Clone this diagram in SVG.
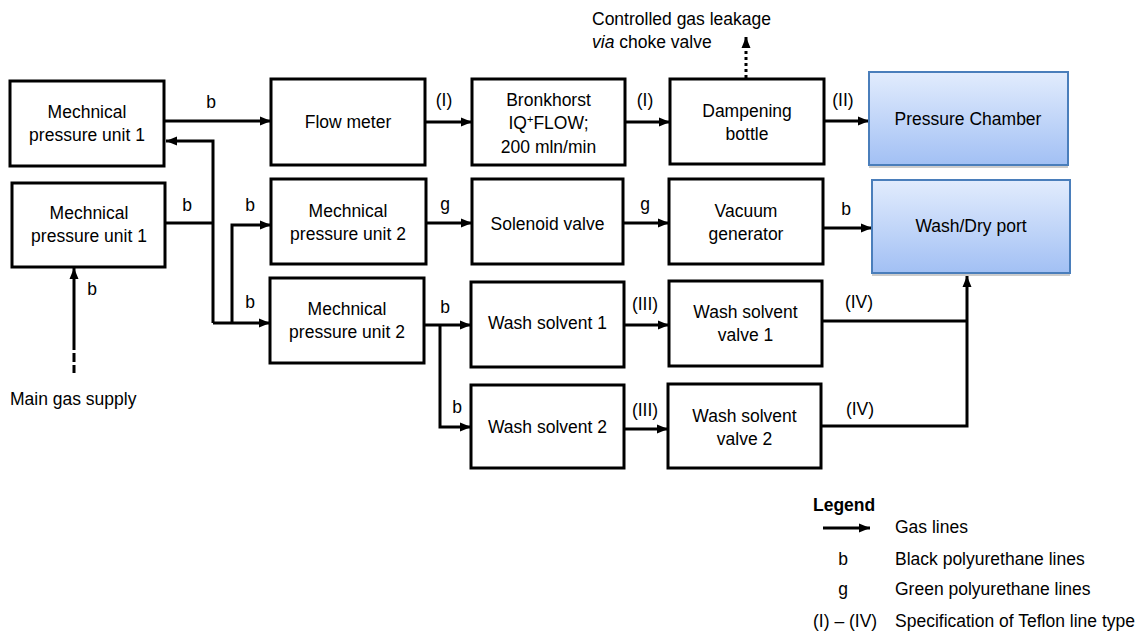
<svg xmlns="http://www.w3.org/2000/svg" width="1146" height="635" viewBox="0 0 1146 635">
  <style>
    text { font-family: "Liberation Sans", Arial, sans-serif; font-size: 17.5px; fill: #000; }
    .c { text-anchor: middle; }
    .box { fill: #fff; stroke: #000; stroke-width: 3; }
    .target { fill: url(#blueFill); stroke: #4a7ebb; stroke-width: 2; }
    .shadow { fill: #cccccc; }
    .line { fill: none; stroke: #000; stroke-width: 3; }
    .arrow { marker-end: url(#head); }
    .dotted { stroke-dasharray: 3 3; }
    .bold { font-weight: bold; }
  </style>
  <defs>
    <marker id="head" markerUnits="userSpaceOnUse" markerWidth="12" markerHeight="10" refX="11" refY="5" orient="auto">
      <path d="M0,0.5 L11,5 L0,9.5 z" fill="#000"/>
    </marker>
    <linearGradient id="blueFill" x1="0" y1="0" x2="0" y2="1">
      <stop offset="0" stop-color="#e2ecfd"/>
      <stop offset="1" stop-color="#a2c0f4"/>
    </linearGradient>
  </defs>

  <rect width="1146" height="635" fill="#fff"/>

  <!-- connectors -->
  <g id="connectors">
    <path class="line arrow" d="M164,121 H271"/>
    <path class="line arrow" d="M213,323 V141 H166"/>
    <path class="line" d="M165,223 H213"/>
    <path class="line arrow" d="M213,323 H270"/>
    <path class="line arrow" d="M232,323 V225 H271"/>
    <path class="line arrow" d="M74,350 V268"/>
    <path class="line" d="M74,353 V362 M74,365 V373"/>
    <path class="line arrow" d="M425,122 H472"/>
    <path class="line arrow" d="M625,122 H670"/>
    <path class="line arrow" d="M824,121 H869"/>
    <path class="line dotted" d="M746,78 V46"/>
    <path class="line arrow" d="M746,46 V37"/>
    <path class="line arrow" d="M426,223 H472"/>
    <path class="line arrow" d="M623,223 H669"/>
    <path class="line arrow" d="M823,228 H872"/>
    <path class="line arrow" d="M424,325 H471"/>
    <path class="line arrow" d="M440,325 V427 H471"/>
    <path class="line arrow" d="M624,325 H669"/>
    <path class="line arrow" d="M624,429 H668"/>
    <path class="line" d="M822,321 H967"/>
    <path class="line arrow" d="M821,426 H967 V276"/>

    <text class="c" x="211" y="108">b</text>
    <text class="c" x="187" y="211">b</text>
    <text class="c" x="250" y="211">b</text>
    <text class="c" x="250" y="308">b</text>
    <text class="c" x="92" y="295">b</text>
    <text class="c" x="444" y="106">(I)</text>
    <text class="c" x="645" y="106">(I)</text>
    <text class="c" x="843" y="106">(II)</text>
    <text class="c" x="445" y="210">g</text>
    <text class="c" x="645" y="210">g</text>
    <text class="c" x="846" y="215">b</text>
    <text class="c" x="445" y="313">b</text>
    <text class="c" x="457" y="413">b</text>
    <text class="c" x="645" y="310">(III)</text>
    <text class="c" x="645" y="416">(III)</text>
    <text class="c" x="859" y="308">(IV)</text>
    <text class="c" x="860" y="415">(IV)</text>
  </g>

  <g id="mpu1-top">
    <rect class="box" x="10" y="81" width="154" height="85"/>
    <text class="c" x="87" y="118">Mechnical</text>
    <text class="c" x="87" y="141">pressure unit 1</text>
  </g>
  <g id="mpu1-bottom">
    <rect class="box" x="12" y="183" width="153" height="84"/>
    <text class="c" x="89" y="219">Mechnical</text>
    <text class="c" x="89" y="242">pressure unit 1</text>
  </g>
  <g id="main-supply">
    <text x="10" y="405">Main gas supply</text>
  </g>
  <g id="flow-meter">
    <rect class="box" x="271" y="79" width="154" height="86"/>
    <text class="c" x="348" y="128">Flow meter</text>
  </g>
  <g id="bronkhorst">
    <rect class="box" x="472" y="79" width="153" height="86"/>
    <text class="c" x="548.5" y="106">Bronkhorst</text>
    <text class="c" x="548.5" y="129">IQ<tspan font-size="11" baseline-shift="super">+</tspan>FLOW;</text>
    <text class="c" x="548.5" y="153">200 mln/min</text>
  </g>
  <g id="dampening">
    <rect class="box" x="670" y="79" width="154" height="85"/>
    <text class="c" x="747" y="117">Dampening</text>
    <text class="c" x="747" y="140">bottle</text>
  </g>
  <g id="leakage">
    <text x="592" y="25">Controlled gas leakage</text>
    <text x="592" y="48"><tspan font-style="italic">via</tspan> choke valve</text>
  </g>
  <g id="pressure-chamber">
    <rect class="shadow" x="869" y="75" width="199" height="93"/>
    <rect class="target" x="869" y="72" width="199" height="93"/>
    <text class="c" x="968" y="125">Pressure Chamber</text>
  </g>
  <g id="mpu2-mid">
    <rect class="box" x="271" y="179" width="155" height="85"/>
    <text class="c" x="348" y="217">Mechnical</text>
    <text class="c" x="348" y="240">pressure unit 2</text>
  </g>
  <g id="solenoid">
    <rect class="box" x="472" y="179" width="151" height="85"/>
    <text class="c" x="547.5" y="230">Solenoid valve</text>
  </g>
  <g id="vacuum">
    <rect class="box" x="669" y="179" width="154" height="85"/>
    <text class="c" x="746" y="217">Vacuum</text>
    <text class="c" x="746" y="240">generator</text>
  </g>
  <g id="wash-dry">
    <rect class="shadow" x="872" y="183" width="198" height="93"/>
    <rect class="target" x="872" y="180" width="198" height="93"/>
    <text class="c" x="971" y="232">Wash/Dry port</text>
  </g>
  <g id="mpu2-low">
    <rect class="box" x="270" y="278" width="154" height="85"/>
    <text class="c" x="347" y="315">Mechnical</text>
    <text class="c" x="347" y="338">pressure unit 2</text>
  </g>
  <g id="wash1">
    <rect class="box" x="471" y="282" width="153" height="85"/>
    <text class="c" x="547.5" y="329">Wash solvent 1</text>
  </g>
  <g id="wash2">
    <rect class="box" x="471" y="385" width="153" height="83"/>
    <text class="c" x="547.5" y="433">Wash solvent 2</text>
  </g>
  <g id="valve1">
    <rect class="box" x="669" y="281" width="153" height="85"/>
    <text class="c" x="745.5" y="318">Wash solvent</text>
    <text class="c" x="745.5" y="341">valve 1</text>
  </g>
  <g id="valve2">
    <rect class="box" x="668" y="384" width="153" height="84"/>
    <text class="c" x="744.5" y="422">Wash solvent</text>
    <text class="c" x="744.5" y="445">valve 2</text>
  </g>

  <g id="legend">
    <text class="bold" x="813" y="511">Legend</text>
    <path class="line arrow" d="M823,528 H870"/>
    <text x="895" y="533">Gas lines</text>
    <text class="c" x="843" y="565">b</text>
    <text x="895" y="565">Black polyurethane lines</text>
    <text class="c" x="843" y="595">g</text>
    <text x="895" y="595">Green polyurethane lines</text>
    <text x="813" y="627">(I) – (IV)</text>
    <text x="895" y="627">Specification of Teflon line type</text>
  </g>
</svg>
